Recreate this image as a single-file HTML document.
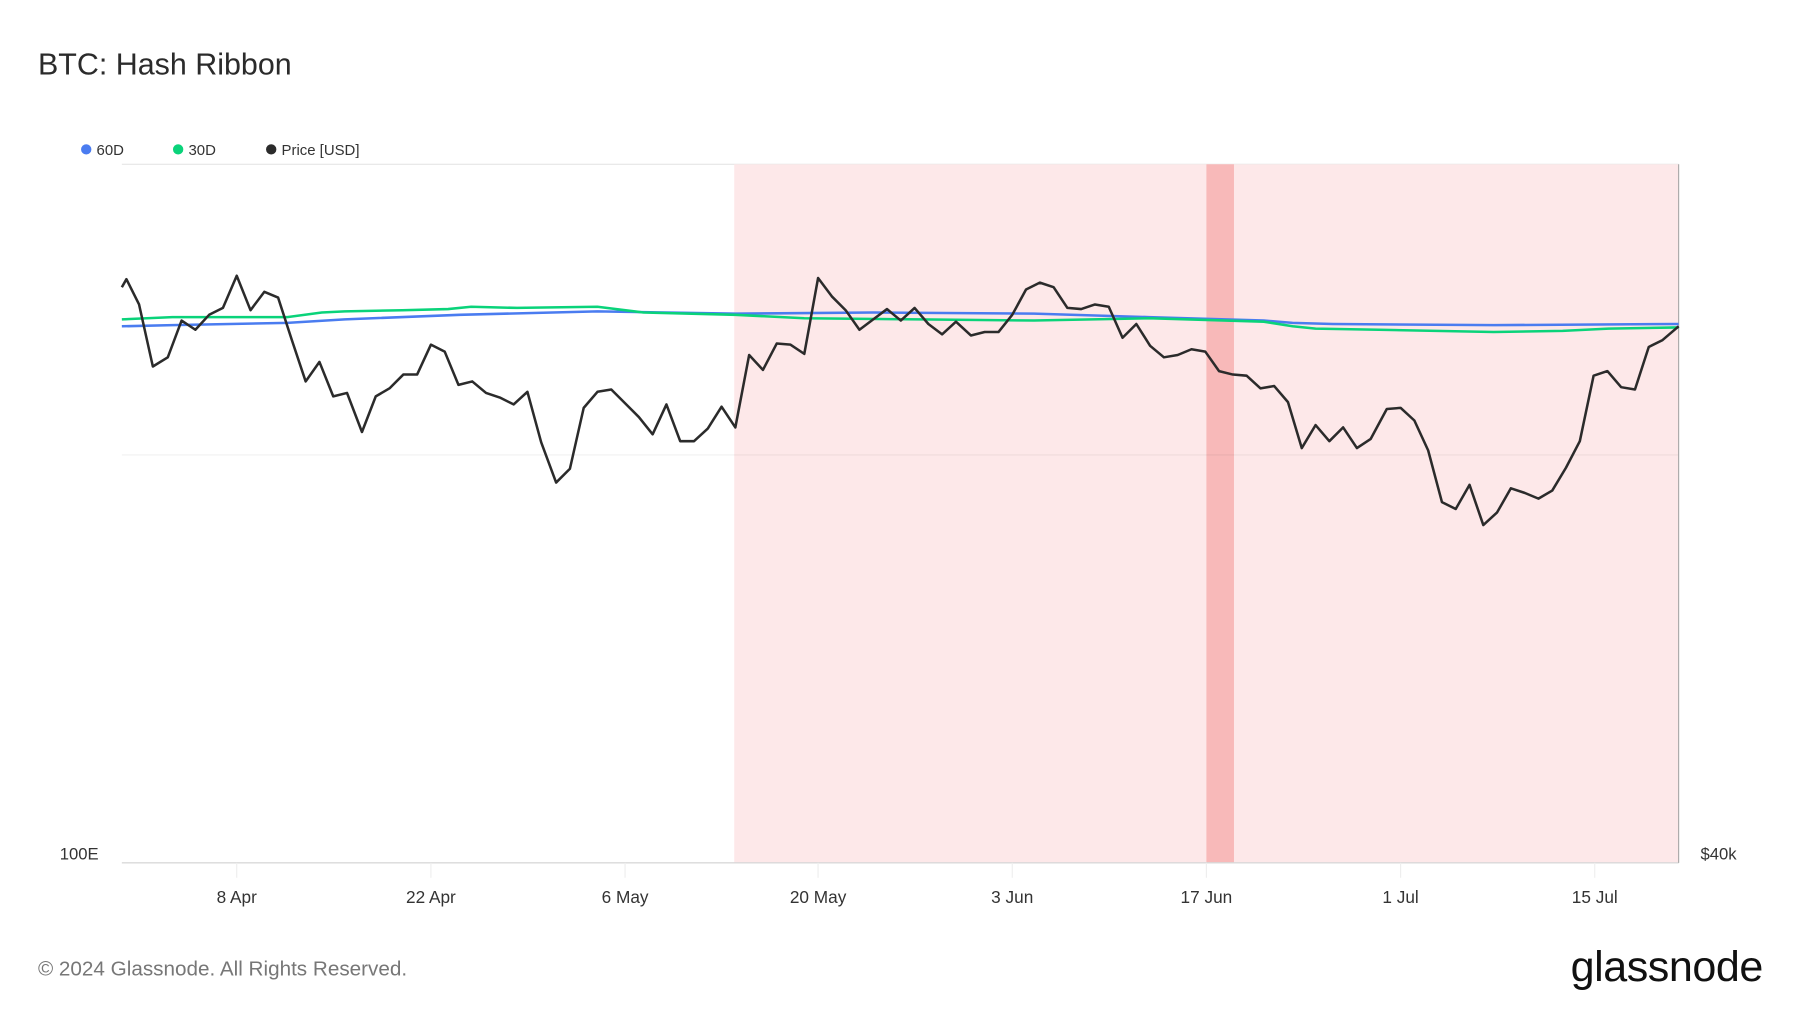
<!DOCTYPE html>
<html><head><meta charset="utf-8"><style>
html,body{margin:0;padding:0;background:#fff;width:1800px;height:1013px;overflow:hidden}
svg{display:block}
text{font-family:"Liberation Sans",sans-serif}
</style></head><body>
<svg width="1800" height="1013" viewBox="0 0 1566.6 881.7" xmlns="http://www.w3.org/2000/svg">
<text x="33" y="65" font-size="26.5" fill="#2b2b2b">BTC: Hash Ribbon</text>
<circle cx="75" cy="130" r="4.5" fill="#4a7cf0"/><text x="84" y="135" font-size="13" fill="#333">60D</text>
<circle cx="155" cy="130" r="4.5" fill="#0ad37a"/><text x="164" y="135" font-size="13" fill="#333">30D</text>
<circle cx="236" cy="130" r="4.5" fill="#2b2b2b"/><text x="245" y="135" font-size="13" fill="#333">Price [USD]</text>
<line x1="106" y1="143" x2="1461" y2="143" stroke="#e6e6e6"/>
<rect x="639" y="143" width="822" height="608" fill="#fde8e9"/>
<rect x="1050" y="143" width="24" height="608" fill="#f8b9b9"/>
<line x1="106" y1="396" x2="1461" y2="396" stroke="#000" stroke-opacity="0.06"/>
<line x1="106" y1="751" x2="1461" y2="751" stroke="#d9d9d9" stroke-width="1.2"/>
<line x1="1461" y1="143" x2="1461" y2="751" stroke="#aaa" stroke-width="1"/>
<g stroke="#eeeeee"><line x1="206" y1="751" x2="206" y2="764"/><line x1="375" y1="751" x2="375" y2="764"/><line x1="544" y1="751" x2="544" y2="764"/><line x1="712" y1="751" x2="712" y2="764"/><line x1="881" y1="751" x2="881" y2="764"/><line x1="1050" y1="751" x2="1050" y2="764"/><line x1="1219" y1="751" x2="1219" y2="764"/><line x1="1388" y1="751" x2="1388" y2="764"/></g>
<g font-size="15" fill="#333" text-anchor="middle">
<text x="206" y="786">8 Apr</text><text x="375" y="786">22 Apr</text><text x="544" y="786">6 May</text><text x="712" y="786">20 May</text><text x="881" y="786">3 Jun</text><text x="1050" y="786">17 Jun</text><text x="1219" y="786">1 Jul</text><text x="1388" y="786">15 Jul</text>
</g>
<text x="52" y="748" font-size="14.5" fill="#333">100E</text>
<text x="1480" y="748" font-size="14.5" fill="#333">$40k</text>
<polyline fill="none" stroke="#4a7cf0" stroke-width="2.2" points="106,284 150,283 200,282 250,281 300,278 400,274 520,271 640,273 760,272 900,273 1000,276 1100,279 1125,281 1160,282 1300,283 1461,282"/>
<polyline fill="none" stroke="#0ad37a" stroke-width="2.2" points="106,278 150,276 200,276 250,276 280,272 300,271 350,270 390,269 410,267 450,268 520,267 560,272 640,274 700,277 800,278 900,279 1000,277 1100,280 1125,284 1145,286 1200,287 1300,289 1360,288 1400,286 1461,285"/>
<polyline fill="none" stroke="#2b2b2b" stroke-width="2.2" stroke-linejoin="round" points="106,250 110,243 121,265 133,319 146,311 158,279 170,287 182,274 194,268 206,240 218,270 230,254 242,259 254,296 266,332 278,315 290,345 302,342 315,376 327,345 339,338 351,326 363,326 375,300 387,306 399,335 411,332 423,342 435,346 447,352 459,341 471,385 484,420 496,408 508,355 520,341 532,339 544,351 556,363 568,378 580,352 592,384 604,384 616,373 628,354 640,372 652,309 664,322 676,299 688,300 700,308 712,242 724,258 736,270 748,287 760,278 772,269 784,279 796,268 808,282 820,291 832,280 845,292 857,289 869,289 881,274 893,252 905,246 917,250 929,268 941,269 953,265 965,267 977,294 989,282 1001,301 1013,311 1025,309 1037,304 1049,306 1061,323 1073,326 1085,327 1097,338 1109,336 1121,350 1133,390 1145,370 1157,384 1169,372 1181,390 1193,382 1207,356 1219,355 1231,366 1243,392 1255,437 1267,443 1279,422 1291,457 1303,446 1315,425 1327,429 1339,434 1351,427 1363,407 1375,384 1387,327 1399,323 1411,337 1423,339 1435,302 1447,296 1461,284"/>
<text x="33" y="849" font-size="18" fill="#777">© 2024 Glassnode. All Rights Reserved.</text>
<text x="1367" y="854" font-size="37.5" fill="#111" letter-spacing="-0.4">glassnode</text>
</svg>
</body></html>
